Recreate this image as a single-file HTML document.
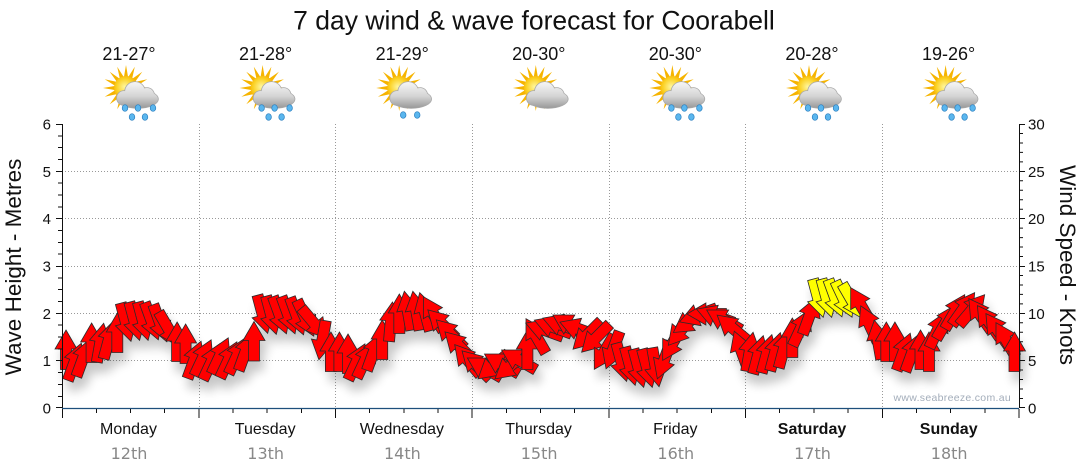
<!DOCTYPE html>
<html><head><meta charset="utf-8">
<style>html,body{margin:0;padding:0;background:#fff}svg{display:block}</style>
</head><body>
<svg width="1080" height="475" viewBox="0 0 1080 475" xmlns="http://www.w3.org/2000/svg" font-family="'Liberation Sans', Arial, sans-serif">
<defs>
  <polygon id="ar" points="0,-20 11,-1 5.5,-1 5.5,19.5 -5.5,19.5 -5.5,-1 -11,-1"/>
  <filter id="sh" filterUnits="userSpaceOnUse" x="0" y="0" width="1080" height="475">
    <feGaussianBlur in="SourceAlpha" stdDeviation="5"/>
    <feOffset dx="4" dy="10" result="b"/>
    <feComponentTransfer><feFuncA type="linear" slope="0.22"/></feComponentTransfer>
    <feMerge><feMergeNode/><feMergeNode in="SourceGraphic"/></feMerge>
  </filter>
  <radialGradient id="sung" cx="0.45" cy="0.45" r="0.6">
    <stop offset="0" stop-color="#fff7a0"/><stop offset="0.6" stop-color="#fbd020"/><stop offset="1" stop-color="#f2a200"/>
  </radialGradient>
  <linearGradient id="cldg" gradientUnits="userSpaceOnUse" x1="0" y1="82" x2="0" y2="108">
    <stop offset="0" stop-color="#f6f6f6"/><stop offset="0.55" stop-color="#d4d4d4"/><stop offset="1" stop-color="#9a9a9a"/>
  </linearGradient>
  <g id="suncloud">
    <polygon transform="translate(-3,88)" fill="#f6b400" points="23,0 10.8,2.1 21.3,8.8 9.1,6.1 16.3,16.3 6.1,9.1 8.8,21.3 2.1,10.8 0,23 -2.1,10.8 -8.8,21.3 -6.1,9.1 -16.3,16.3 -9.1,6.1 -21.3,8.8 -10.8,2.1 -23,0 -10.8,-2.1 -21.3,-8.8 -9.1,-6.1 -16.3,-16.3 -6.1,-9.1 -8.8,-21.3 -2.1,-10.8 0,-23 2.1,-10.8 8.8,-21.3 6.1,-9.1 16.3,-16.3 9.1,-6.1 21.3,-8.8 10.8,-2.1"/>
    <circle cx="-3" cy="88" r="12" fill="url(#sung)"/>
    <g fill="#a8a8a8">
      <ellipse cx="9" cy="99" rx="20.8" ry="9.8"/><circle cx="6" cy="92" r="10.8"/><circle cx="18" cy="95" r="7.8"/><circle cx="-5" cy="98" r="7.8"/>
    </g>
    <g fill="url(#cldg)">
      <ellipse cx="9" cy="99" rx="20" ry="9"/><circle cx="6" cy="92" r="10"/><circle cx="18" cy="95" r="7"/><circle cx="-5" cy="98" r="7"/>
    </g>
  </g>
  <g id="drops5" fill="#5ab6ee" stroke="#2c7fbf" stroke-width="0.7">
    <ellipse cx="-4" cy="108" rx="2.8" ry="3.3"/><ellipse cx="9" cy="108" rx="2.8" ry="3.3"/><ellipse cx="24" cy="108" rx="2.8" ry="3.3"/>
    <ellipse cx="3" cy="117" rx="2.8" ry="3.3"/><ellipse cx="16" cy="117" rx="2.8" ry="3.3"/>
  </g>
  <g id="drops2" fill="#5ab6ee" stroke="#2c7fbf" stroke-width="0.7">
    <ellipse cx="1" cy="115" rx="2.8" ry="3.3"/><ellipse cx="15" cy="115" rx="2.8" ry="3.3"/>
  </g>
</defs>

<!-- Title -->
<text x="534" y="29.5" font-size="26.5" text-anchor="middle" fill="#111">7 day wind &amp; wave forecast for Coorabell</text>

<!-- Temperatures -->
<g font-size="18" text-anchor="middle" fill="#111">
  <text x="129" y="60">21-27°</text>
  <text x="265.6" y="60">21-28°</text>
  <text x="402.2" y="60">21-29°</text>
  <text x="538.8" y="60">20-30°</text>
  <text x="675.4" y="60">20-30°</text>
  <text x="812" y="60">20-28°</text>
  <text x="948.6" y="60">19-26°</text>
</g>

<!-- Icons -->
<g transform="translate(129,0)"><use href="#suncloud"/><use href="#drops5"/></g>
<g transform="translate(265.6,0)"><use href="#suncloud"/><use href="#drops5"/></g>
<g transform="translate(402.2,0)"><use href="#suncloud"/><use href="#drops2"/></g>
<g transform="translate(538.8,0)"><use href="#suncloud"/></g>
<g transform="translate(675.4,0)"><use href="#suncloud"/><use href="#drops5"/></g>
<g transform="translate(812,0)"><use href="#suncloud"/><use href="#drops5"/></g>
<g transform="translate(948.6,0)"><use href="#suncloud"/><use href="#drops5"/></g>

<!-- Grid -->
<g stroke="#999" stroke-width="1" stroke-dasharray="1,2" fill="none">
  <path d="M62 171.5H1019M62 218.5H1019M62 266.5H1019M62 313.5H1019M62 360.5H1019"/>
  <path d="M199.5 124V408M335.5 124V408M472.5 124V408M609.5 124V408M745.5 124V408M882.5 124V408"/>
</g>

<!-- Watermark -->
<text x="1011" y="401" font-size="10.5" text-anchor="end" fill="#a3adba" letter-spacing="0.3">www.seabreeze.com.au</text>

<!-- Arrows -->
<g filter="url(#sh)" fill="#ff0000" stroke="#2a2a2a" stroke-width="0.8" stroke-linejoin="miter">
<use href="#ar" transform="translate(66,350)"/>
<use href="#ar" transform="translate(74.5,362) rotate(20)"/>
<use href="#ar" transform="translate(83.1,358) rotate(20)"/>
<use href="#ar" transform="translate(91.6,343)"/>
<use href="#ar" transform="translate(100.2,343) rotate(10)"/>
<use href="#ar" transform="translate(108.7,340) rotate(15)"/>
<use href="#ar" transform="translate(117.3,333)"/>
<use href="#ar" transform="translate(125.8,322) rotate(165)"/>
<use href="#ar" transform="translate(134.4,321) rotate(165)"/>
<use href="#ar" transform="translate(142.9,321) rotate(165)"/>
<use href="#ar" transform="translate(151.5,321) rotate(160)"/>
<use href="#ar" transform="translate(160,323) rotate(160)"/>
<use href="#ar" transform="translate(168.5,329) rotate(150)"/>
<use href="#ar" transform="translate(177.1,342)"/>
<use href="#ar" transform="translate(185.6,344)"/>
<use href="#ar" transform="translate(194.2,360) rotate(20)"/>
<use href="#ar" transform="translate(202.7,358) rotate(25)"/>
<use href="#ar" transform="translate(211.3,362) rotate(25)"/>
<use href="#ar" transform="translate(219.8,356) rotate(25)"/>
<use href="#ar" transform="translate(228.4,360) rotate(25)"/>
<use href="#ar" transform="translate(236.9,356) rotate(25)"/>
<use href="#ar" transform="translate(245.4,352) rotate(20)"/>
<use href="#ar" transform="translate(254,341.5)"/>
<use href="#ar" transform="translate(262.5,314) rotate(165)"/>
<use href="#ar" transform="translate(271.1,315) rotate(165)"/>
<use href="#ar" transform="translate(279.6,315) rotate(160)"/>
<use href="#ar" transform="translate(288.2,315) rotate(160)"/>
<use href="#ar" transform="translate(296.7,316) rotate(160)"/>
<use href="#ar" transform="translate(305.3,318) rotate(155)"/>
<use href="#ar" transform="translate(313.8,323) rotate(140)"/>
<use href="#ar" transform="translate(322.4,340) rotate(190)"/>
<use href="#ar" transform="translate(330.9,352)"/>
<use href="#ar" transform="translate(339.4,352)"/>
<use href="#ar" transform="translate(348,354)"/>
<use href="#ar" transform="translate(356.5,362) rotate(25)"/>
<use href="#ar" transform="translate(365.1,360) rotate(25)"/>
<use href="#ar" transform="translate(373.6,352) rotate(20)"/>
<use href="#ar" transform="translate(382.2,340)"/>
<use href="#ar" transform="translate(390.7,322) rotate(5)"/>
<use href="#ar" transform="translate(399.3,314)"/>
<use href="#ar" transform="translate(407.8,311) rotate(-10)"/>
<use href="#ar" transform="translate(416.3,311) rotate(-10)"/>
<use href="#ar" transform="translate(424.9,312) rotate(-15)"/>
<use href="#ar" transform="translate(433.4,314) rotate(-30)"/>
<use href="#ar" transform="translate(442,324) rotate(-45)"/>
<use href="#ar" transform="translate(450.5,334) rotate(-45)"/>
<use href="#ar" transform="translate(459.1,346) rotate(-45)"/>
<use href="#ar" transform="translate(467.6,360) rotate(-40)"/>
<use href="#ar" transform="translate(476.2,365) rotate(-45)"/>
<use href="#ar" transform="translate(484.7,368) rotate(-60)"/>
<use href="#ar" transform="translate(493.3,366) rotate(-130)"/>
<use href="#ar" transform="translate(501.8,364) rotate(-60)"/>
<use href="#ar" transform="translate(510.3,366) rotate(-130)"/>
<use href="#ar" transform="translate(518.9,360) rotate(-60)"/>
<use href="#ar" transform="translate(527.4,350)"/>
<use href="#ar" transform="translate(536,336) rotate(-30)"/>
<use href="#ar" transform="translate(544.5,330) rotate(-70)"/>
<use href="#ar" transform="translate(553.1,327) rotate(-70)"/>
<use href="#ar" transform="translate(561.6,325) rotate(-70)"/>
<use href="#ar" transform="translate(570.2,325) rotate(-60)"/>
<use href="#ar" transform="translate(578.7,329) rotate(-70)"/>
<use href="#ar" transform="translate(587.2,335) rotate(-135)"/>
<use href="#ar" transform="translate(595.8,338) rotate(-135)"/>
<use href="#ar" transform="translate(604.3,352) rotate(-150)"/>
<use href="#ar" transform="translate(612.9,350) rotate(200)"/>
<use href="#ar" transform="translate(621.4,362) rotate(165)"/>
<use href="#ar" transform="translate(630,366) rotate(165)"/>
<use href="#ar" transform="translate(638.5,368) rotate(165)"/>
<use href="#ar" transform="translate(647.1,368) rotate(165)"/>
<use href="#ar" transform="translate(655.6,367) rotate(170)"/>
<use href="#ar" transform="translate(664.2,360) rotate(200)"/>
<use href="#ar" transform="translate(672.7,343) rotate(210)"/>
<use href="#ar" transform="translate(681.2,330) rotate(220)"/>
<use href="#ar" transform="translate(689.8,321) rotate(235)"/>
<use href="#ar" transform="translate(698.3,315) rotate(250)"/>
<use href="#ar" transform="translate(706.9,314) rotate(270)"/>
<use href="#ar" transform="translate(715.4,316) rotate(290)"/>
<use href="#ar" transform="translate(724,320) rotate(300)"/>
<use href="#ar" transform="translate(732.5,328) rotate(310)"/>
<use href="#ar" transform="translate(741.1,350) rotate(340)"/>
<use href="#ar" transform="translate(749.6,352) rotate(10)"/>
<use href="#ar" transform="translate(758.1,355) rotate(15)"/>
<use href="#ar" transform="translate(766.7,354) rotate(15)"/>
<use href="#ar" transform="translate(775.2,352) rotate(15)"/>
<use href="#ar" transform="translate(783.8,349) rotate(15)"/>
<use href="#ar" transform="translate(792.3,338)"/>
<use href="#ar" transform="translate(800.9,328) rotate(25)"/>
<use href="#ar" transform="translate(809.4,316) rotate(20)"/>
<use href="#ar" fill="#ffff00" transform="translate(818,298) rotate(165)"/>
<use href="#ar" fill="#ffff00" transform="translate(826.5,298) rotate(165)"/>
<use href="#ar" fill="#ffff00" transform="translate(835.1,298) rotate(160)"/>
<use href="#ar" fill="#ffff00" transform="translate(843.6,299) rotate(155)"/>
<use href="#ar" fill="#ffff00" transform="translate(852.1,301) rotate(150)"/>
<use href="#ar" transform="translate(860.7,305) rotate(-30)"/>
<use href="#ar" transform="translate(869.2,324) rotate(-25)"/>
<use href="#ar" transform="translate(877.8,340) rotate(-10)"/>
<use href="#ar" transform="translate(886.3,342)"/>
<use href="#ar" transform="translate(894.9,342)"/>
<use href="#ar" transform="translate(903.4,352) rotate(20)"/>
<use href="#ar" transform="translate(912,353) rotate(20)"/>
<use href="#ar" transform="translate(920.5,350)"/>
<use href="#ar" transform="translate(929,352)"/>
<use href="#ar" transform="translate(937.6,330) rotate(25)"/>
<use href="#ar" transform="translate(946.1,322) rotate(30)"/>
<use href="#ar" transform="translate(954.7,312) rotate(30)"/>
<use href="#ar" transform="translate(963.2,309) rotate(35)"/>
<use href="#ar" transform="translate(971.8,310) rotate(40)"/>
<use href="#ar" transform="translate(980.3,315) rotate(-35)"/>
<use href="#ar" transform="translate(988.9,322) rotate(-35)"/>
<use href="#ar" transform="translate(997.4,330) rotate(-35)"/>
<use href="#ar" transform="translate(1006,340) rotate(-30)"/>
<use href="#ar" transform="translate(1014.5,352)"/>
</g>

<!-- Left axis -->
<g stroke="#111" stroke-width="1" fill="none">
  <path d="M62.5 124V408"/>
  <path d="M56 124.5h6M56 171.5h6M56 218.5h6M56 266.5h6M56 313.5h6M56 360.5h6M56 407.5h6"/>
  <path d="M58 396.5h4M58 384.5h4M58 372.5h4M58 349h4M58 337h4M58 325h4M58 301.5h4M58 289.5h4M58 278h4M58 254h4M58 242.5h4M58 230.5h4M58 207h4M58 195h4M58 183h4M58 159.5h4M58 147.5h4M58 136h4"/>
</g>
<g font-size="15" text-anchor="end" fill="#111">
  <text x="51" y="129.5">6</text>
  <text x="51" y="176.8">5</text>
  <text x="51" y="224.2">4</text>
  <text x="51" y="271.5">3</text>
  <text x="51" y="318.8">2</text>
  <text x="51" y="366.2">1</text>
  <text x="51" y="413.5">0</text>
</g>
<text transform="translate(21,267) rotate(-90)" font-size="22.5" text-anchor="middle" fill="#111">Wave Height - Metres</text>

<!-- Right axis -->
<g stroke="#111" stroke-width="1" fill="none">
  <path d="M1019.5 124V408"/>
  <path d="M1019 124.5h6M1019 171.5h6M1019 218.5h6M1019 266.5h6M1019 313.5h6M1019 360.5h6M1019 407.5h6"/>
  <path d="M1019 398.5h4M1019 389h4M1019 379.5h4M1019 370h4M1019 351h4M1019 341.7h4M1019 332.3h4M1019 322.8h4M1019 303.9h4M1019 294.4h4M1019 285h4M1019 275.5h4M1019 256.5h4M1019 247h4M1019 237.6h4M1019 228.1h4M1019 209.2h4M1019 199.7h4M1019 190.3h4M1019 180.8h4M1019 161.9h4M1019 152.4h4M1019 143h4M1019 133.5h4"/>
</g>
<g font-size="15" text-anchor="start" fill="#111">
  <text x="1028" y="129.5">30</text>
  <text x="1028" y="176.8">25</text>
  <text x="1028" y="224.2">20</text>
  <text x="1028" y="271.5">15</text>
  <text x="1028" y="318.8">10</text>
  <text x="1028" y="366.2">5</text>
  <text x="1028" y="413.5">0</text>
</g>
<text transform="translate(1060,265) rotate(90)" font-size="22.5" text-anchor="middle" fill="#111">Wind Speed - Knots</text>

<!-- Bottom axis -->
<path d="M62 408.5H1019" stroke="#1d4f7c" stroke-width="1.3" fill="none"/>
<g stroke="#111" stroke-width="1" fill="none">
  <path d="M62.5 409v9M199 409v9M335.5 409v9M472 409v9M609 409v9M745.5 409v9M882.5 409v9M1019 409v9"/>
  <path d="M96.5 409v4M130.5 409v4M164.5 409v4M233 409v4M267 409v4M301.5 409v4M369.5 409v4M404 409v4M438 409v4M506.5 409v4M540.5 409v4M574.5 409v4M643 409v4M677 409v4M711.5 409v4M779.5 409v4M814 409v4M848 409v4M916.5 409v4M950.5 409v4M985 409v4"/>
</g>

<!-- Day labels -->
<g font-size="16" text-anchor="middle" fill="#111">
  <text x="128.5" y="434">Monday</text>
  <text x="265.2" y="434">Tuesday</text>
  <text x="401.9" y="434">Wednesday</text>
  <text x="538.6" y="434">Thursday</text>
  <text x="675.3" y="434">Friday</text>
  <text x="812" y="434" font-weight="bold">Saturday</text>
  <text x="948.7" y="434" font-weight="bold">Sunday</text>
</g>
<g font-size="16" text-anchor="middle" fill="#888" font-family="'DejaVu Sans', 'Liberation Sans', sans-serif">
  <text x="129" y="459">12th</text>
  <text x="265.7" y="459">13th</text>
  <text x="402.4" y="459">14th</text>
  <text x="539.1" y="459">15th</text>
  <text x="675.8" y="459">16th</text>
  <text x="812.5" y="459">17th</text>
  <text x="949.2" y="459">18th</text>
</g>
</svg>
</body></html>
